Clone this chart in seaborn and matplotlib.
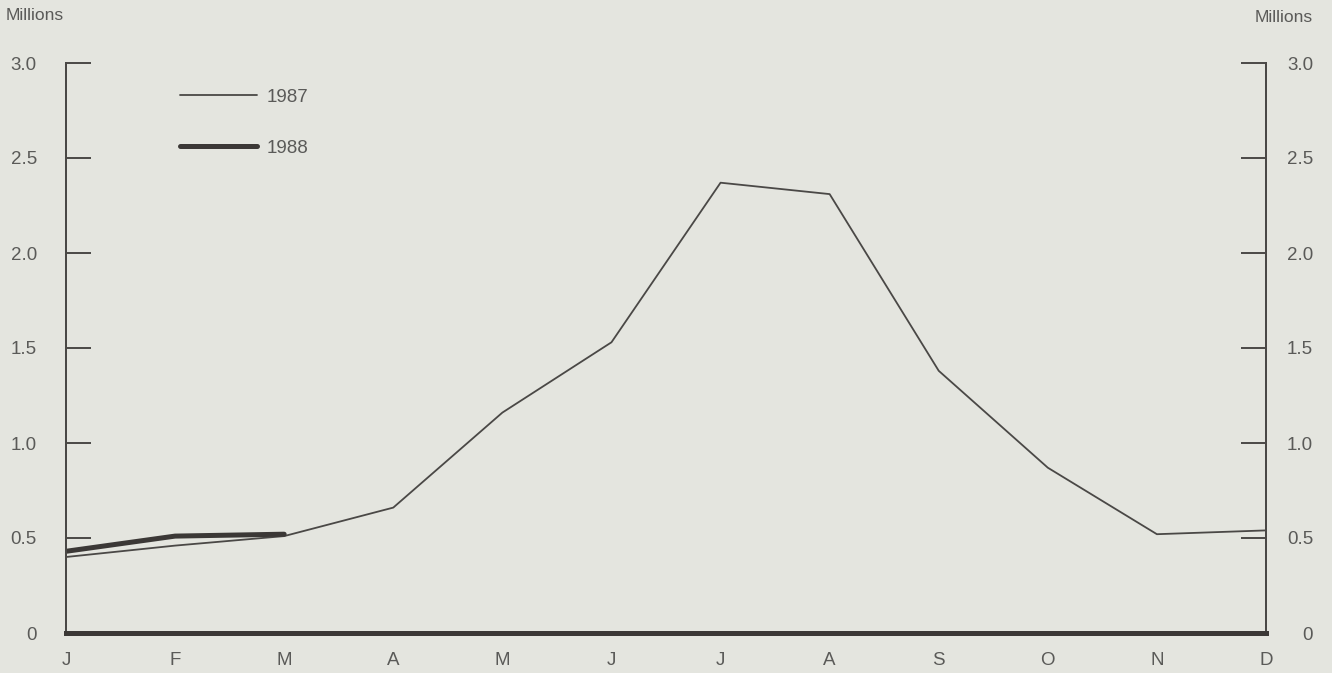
import pandas as pd
import numpy as np
import matplotlib
matplotlib.use("Agg")
import matplotlib.pyplot as plt
import seaborn as sns

# ------------------ Data (millions) ------------------
months = ["J", "F", "M", "A", "M", "J", "J", "A", "S", "O", "N", "D"]
vals_1987 = [0.40, 0.46, 0.51, 0.66, 1.16, 1.53, 2.37, 2.31, 1.38, 0.87, 0.52, 0.54]
vals_1988 = [0.43, 0.51, 0.52]
yticks = [0, 0.5, 1.0, 1.5, 2.0, 2.5, 3.0]
ytick_labels = ["0", "0.5", "1.0", "1.5", "2.0", "2.5", "3.0"]

df87 = pd.DataFrame({"x": np.arange(len(vals_1987)), "value": vals_1987})
df88 = pd.DataFrame({"x": np.arange(len(vals_1988)), "value": vals_1988})

# ------------------ Style ------------------
bg = "#e4e5df"
ink = "#4a4846"
txt = "#5a5a58"
fs = 13.5
sns.set_style("white")
plt.rcParams["font.family"] = ["Liberation Sans", "DejaVu Sans"]

fig = plt.figure(figsize=(13.32, 6.73), dpi=100)
fig.patch.set_facecolor(bg)
ax = fig.add_axes([66 / 1332, 40 / 673, 1200 / 1332, 570 / 673])
ax.set_facecolor(bg)

sns.lineplot(data=df87, x="x", y="value", ax=ax, color=ink, lw=1.3, label="1987")
sns.lineplot(data=df88, x="x", y="value", ax=ax, color="#3b3836", lw=3.6, label="1988")

ax.set_xlim(0, len(months) - 1)
ax.set_ylim(0, 3.0)
ax.set_xlabel("")
ax.set_ylabel("")

# right axis as a twin so its labels can be placed on their own
ax2 = ax.twinx()
ax2.set_ylim(0, 3.0)

for a in (ax, ax2):
    a.spines["top"].set_visible(False)
    for s in ["left", "right"]:
        a.spines[s].set_color(ink)
        a.spines[s].set_linewidth(1.4)
    a.spines["bottom"].set_color("#3b3836")
    a.spines["bottom"].set_linewidth(3.5)

# ticks
ax.set_xticks(np.arange(len(months)))
ax.set_xticklabels(months)
ax.tick_params(axis="x", direction="in", length=20, width=1.4, color=ink,
               labelsize=fs, labelcolor=txt, pad=14)
ax.set_yticks(yticks)
ax.set_yticklabels(ytick_labels)
ax.tick_params(axis="y", direction="in", length=18, width=1.4, color=ink,
               labelsize=fs, labelcolor=txt, pad=21, left=True, right=False)

ax2.set_yticks(yticks)
ax2.set_yticklabels(ytick_labels)
ax2.tick_params(axis="y", direction="in", length=18, width=1.4, color=ink,
                labelsize=fs, labelcolor=txt, pad=34)
for lbl in ax2.get_yticklabels():
    lbl.set_horizontalalignment("right")

# unit labels
fig.text(6 / 1332, 1 - 15 / 673, "Millions", fontsize=12.5, color=txt, va="center", ha="left")
fig.text(1313 / 1332, 1 - 17 / 673, "Millions", fontsize=12.5, color=txt, va="center", ha="right")

# legend
leg = ax.legend(loc="upper left", bbox_to_anchor=(97 / 1200, 1 - 9 / 570), frameon=False,
                handlelength=4.1, labelspacing=1.8, handletextpad=0.5, fontsize=fs)
for t in leg.get_texts():
    t.set_color(txt)

fig.savefig("out.png", dpi=100, facecolor=bg)
